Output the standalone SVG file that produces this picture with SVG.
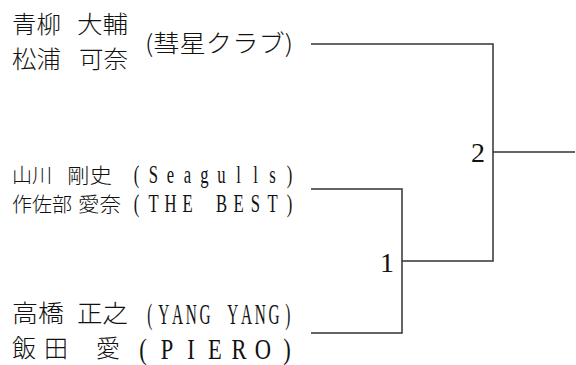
<svg xmlns="http://www.w3.org/2000/svg" width="576" height="365" viewBox="0 0 576 365">
<style>
.jp{font-family:"Noto Sans CJK JP","Noto Sans CJK SC",sans-serif;fill:#111;font-weight:300;}
.lt{font-family:"Liberation Serif","Times New Roman",serif;fill:#111;text-anchor:middle;}
.num{font-family:"Liberation Serif","Times New Roman",serif;fill:#111;font-size:28px;text-anchor:middle;}
.ln{stroke:#333;stroke-width:1.5;fill:none;}
</style>
<rect width="576" height="365" fill="#fff"/>
<g id="team-suisei">
<text class="jp" font-size="24" x="12" y="33" textLength="49" lengthAdjust="spacingAndGlyphs">青柳</text>
<text class="jp" font-size="24" x="77" y="33" textLength="51" lengthAdjust="spacingAndGlyphs">大輔</text>
<text class="jp" font-size="24" x="12" y="68" textLength="49" lengthAdjust="spacingAndGlyphs">松浦</text>
<text class="jp" font-size="24" x="79" y="68" textLength="49" lengthAdjust="spacingAndGlyphs">可奈</text>
<text class="jp" font-size="24" x="145" y="52" textLength="148" lengthAdjust="spacingAndGlyphs">(彗星クラブ)</text>
</g>
<g id="team-seagulls">
<text class="jp" font-size="20" x="12" y="182.5" textLength="40" lengthAdjust="spacingAndGlyphs">山川</text>
<text class="jp" font-size="20" x="67" y="182.5" textLength="45" lengthAdjust="spacingAndGlyphs">剛史</text>
<text class="lt" font-size="26" transform="translate(128 0) scale(0.64 1)" y="183" x="13.3 39.8 66.4 93.0 119.5 146.1 172.7 199.2 225.8 252.3">(Seagulls)</text>
</g>
<g id="team-thebest">
<text class="jp" font-size="20" x="12" y="212" textLength="60" lengthAdjust="spacingAndGlyphs">作佐部</text>
<text class="jp" font-size="20" x="78" y="212" textLength="43" lengthAdjust="spacingAndGlyphs">愛奈</text>
<text class="lt" font-size="26" transform="translate(128 0) scale(0.64 1)" y="212" x="13.3 39.8 66.4 93.0 119.5 146.1 172.7 199.2 225.8 252.3">(THE BEST)</text>
</g>
<g id="team-yangyang">
<text class="jp" font-size="24" x="12" y="322" textLength="52" lengthAdjust="spacingAndGlyphs">高橋</text>
<text class="jp" font-size="24" x="77" y="322" textLength="51" lengthAdjust="spacingAndGlyphs">正之</text>
<text class="lt" font-size="30" transform="translate(143 0) scale(0.51 1)" y="324" x="13.5 40.6 67.6 94.7 121.8 148.8 175.9 203 230 257.1 284.1">(YANG YANG)</text>
</g>
<g id="team-piero">
<text class="jp" font-size="24" y="357" x="12 44">飯田</text>
<text class="jp" font-size="24" x="96" y="357">愛</text>
<text class="lt" font-size="30" transform="translate(131 0) scale(0.75 1)" y="359" x="16 48 80 112 144 176 208">(PIERO)</text>
</g>
<g id="connectors">
<polyline class="ln" points="311,44 493,44 493,261 402,261"/>
<polyline class="ln" points="311,189 402,189 402,333 311,333"/>
<line class="ln" x1="493" y1="152" x2="575" y2="152"/>
</g>
<g id="match-labels">
<text class="num" x="478" y="162">2</text>
<text class="num" x="387" y="272">1</text>
</g>
</svg>
